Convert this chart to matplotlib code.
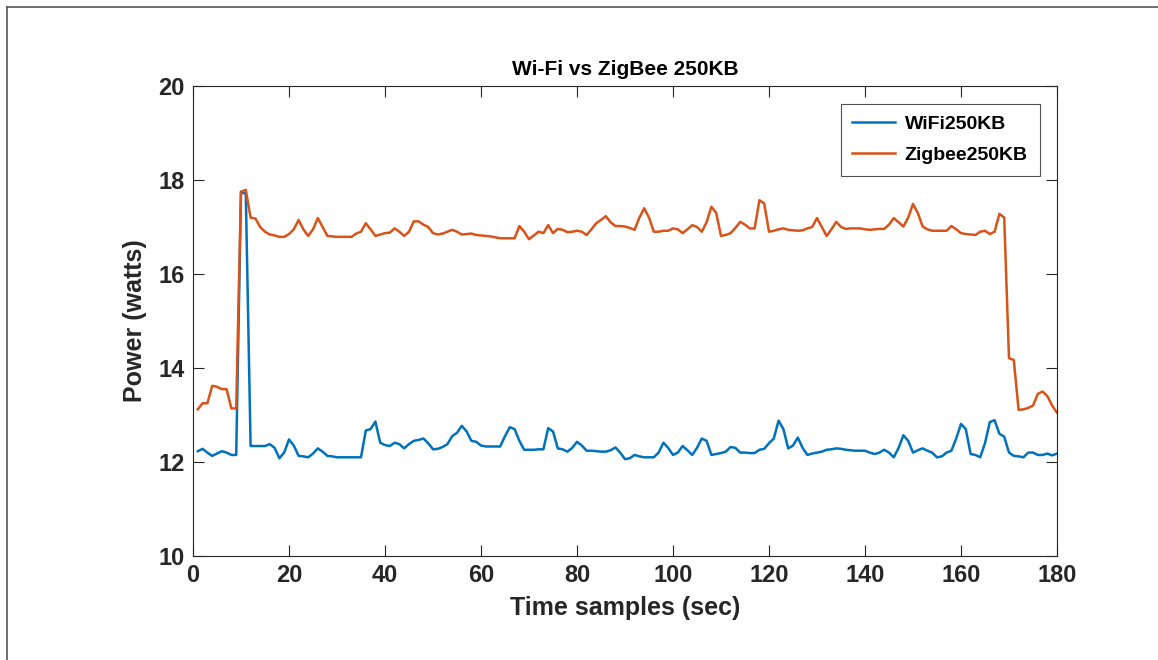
import matplotlib
matplotlib.use("Agg")
import matplotlib.pyplot as plt
from matplotlib.lines import Line2D
import numpy as np

time_s = list(range(1, 181))

zigbee_250kb = [
    13.12, 13.25, 13.25, 13.62, 13.60, 13.55, 13.55, 13.14, 13.14, 17.75,
    17.79, 17.20, 17.18, 17.00, 16.90, 16.84, 16.82, 16.79, 16.79, 16.85,
    16.95, 17.15, 16.95, 16.81, 16.95, 17.19, 17.00, 16.81, 16.80, 16.79,
    16.79, 16.79, 16.79, 16.86, 16.90, 17.08, 16.95, 16.81, 16.84, 16.87,
    16.88, 16.97, 16.90, 16.81, 16.90, 17.12, 17.12, 17.05, 17.00, 16.87,
    16.84, 16.86, 16.90, 16.94, 16.90, 16.84, 16.85, 16.86, 16.83, 16.82,
    16.81, 16.80, 16.78, 16.76, 16.76, 16.76, 16.76, 17.02, 16.90, 16.74,
    16.82, 16.90, 16.87, 17.04, 16.87, 16.96, 16.94, 16.89, 16.90, 16.92,
    16.90, 16.83, 16.95, 17.08, 17.15, 17.23, 17.10, 17.02, 17.02, 17.01,
    16.98, 16.94, 17.20, 17.40, 17.20, 16.90, 16.90, 16.92, 16.92, 16.97,
    16.95, 16.87, 16.95, 17.04, 17.00, 16.90, 17.10, 17.43, 17.30, 16.81,
    16.83, 16.87, 16.98, 17.11, 17.05, 16.97, 16.97, 17.57, 17.50, 16.90,
    16.92, 16.95, 16.97, 16.94, 16.93, 16.92, 16.93, 16.97, 17.00, 17.19,
    17.00, 16.81, 16.95, 17.11, 17.00, 16.96, 16.97, 16.97, 16.97, 16.95,
    16.94, 16.95, 16.96, 16.96, 17.05, 17.19, 17.10, 17.01, 17.20, 17.49,
    17.30, 17.01, 16.95, 16.92, 16.92, 16.92, 16.92, 17.02, 16.95, 16.87,
    16.85, 16.84, 16.83, 16.90, 16.92, 16.85, 16.90, 17.28, 17.20, 14.21,
    14.17, 13.11, 13.12, 13.15, 13.20, 13.45, 13.50, 13.40, 13.20, 13.05,
]

wifi_250kb = [
    12.23, 12.28, 12.20, 12.13, 12.18, 12.23, 12.20, 12.15, 12.15, 17.75,
    17.70, 12.34, 12.34, 12.34, 12.34, 12.38, 12.30, 12.08, 12.20, 12.48,
    12.35, 12.13, 12.12, 12.10, 12.18, 12.29, 12.22, 12.13, 12.12, 12.10,
    12.10, 12.10, 12.10, 12.10, 12.10, 12.67, 12.70, 12.86, 12.41, 12.36,
    12.34, 12.41, 12.38, 12.29, 12.38, 12.45, 12.47, 12.50, 12.40, 12.27,
    12.28, 12.32, 12.38, 12.55, 12.62, 12.77, 12.65, 12.45, 12.43, 12.35,
    12.33, 12.33, 12.33, 12.33, 12.55, 12.74, 12.70, 12.45, 12.26, 12.26,
    12.26, 12.27, 12.27, 12.72, 12.65, 12.29, 12.27, 12.22, 12.30, 12.43,
    12.35, 12.24, 12.24, 12.23, 12.22, 12.22, 12.25, 12.31, 12.20, 12.06,
    12.08, 12.15, 12.12, 12.10, 12.10, 12.10, 12.20, 12.41, 12.30, 12.15,
    12.20, 12.34, 12.25, 12.15, 12.30, 12.50, 12.45, 12.15, 12.17, 12.19,
    12.22, 12.32, 12.30, 12.20, 12.20, 12.19, 12.19, 12.26, 12.28, 12.40,
    12.50, 12.88, 12.70, 12.29, 12.35, 12.52, 12.30, 12.15, 12.18, 12.20,
    12.22, 12.26, 12.27, 12.29, 12.28, 12.26, 12.25, 12.24, 12.24, 12.24,
    12.20, 12.17, 12.20, 12.26, 12.20, 12.10, 12.30, 12.57, 12.45, 12.20,
    12.25, 12.29, 12.24, 12.20, 12.10, 12.12, 12.20, 12.24, 12.50, 12.81,
    12.70, 12.17, 12.15, 12.10, 12.40, 12.85, 12.89, 12.60, 12.54, 12.20,
    12.13, 12.12, 12.10, 12.20, 12.20, 12.15, 12.15, 12.18, 12.14, 12.18,
]

x_ticks = [0, 20, 40, 60, 80, 100, 120, 140, 160, 180]
y_ticks = [10, 12, 14, 16, 18, 20]

plt.rcParams['font.family'] = ['Liberation Sans', 'DejaVu Sans']
plt.rcParams['font.weight'] = 'bold'

fig = plt.figure(figsize=(11.58, 6.6), dpi=100)
ax = fig.add_axes([193/1158, 1 - 556/660, (1057 - 193)/1158, (556 - 86)/660])

ax.plot(time_s, wifi_250kb, color='#0072BD', lw=1.8, label='WiFi250KB')
ax.plot(time_s, zigbee_250kb, color='#D95319', lw=1.8, label='Zigbee250KB')

ax.set_xlim(0, 180)
ax.set_ylim(10, 20)
ax.set_xticks(x_ticks)
ax.set_yticks(y_ticks)
ax.tick_params(direction='in', top=True, right=True, length=8, width=0.8,
               colors='#262626', labelsize=17, pad=6)
for lab in ax.get_xticklabels() + ax.get_yticklabels():
    lab.set_fontweight('bold')
for s in ax.spines.values():
    s.set_color('#262626')
    s.set_linewidth(0.8)

ax.set_title('Wi-Fi vs ZigBee 250KB', fontsize=15, fontweight='bold', pad=8)
ax.set_xlabel('Time samples (sec)', fontsize=18, fontweight='bold', color='#262626', labelpad=6)
ax.set_ylabel('Power (watts)', fontsize=18, fontweight='bold', color='#262626', labelpad=8)

leg = ax.legend(loc='upper right', frameon=True, fancybox=False,
                edgecolor='#262626', handlelength=2.2, borderaxespad=0.9,
                labelspacing=0.7, borderpad=0.6, handletextpad=0.5,
                prop={'weight': 'bold', 'size': 14})
leg.get_frame().set_linewidth(0.8)

fig.add_artist(Line2D([7/1158, 1], [1 - 7/660, 1 - 7/660], transform=fig.transFigure,
                      color='#555555', lw=1.2))
fig.add_artist(Line2D([7/1158, 7/1158], [0, 1 - 7/660], transform=fig.transFigure,
                      color='#555555', lw=1.2))

fig.savefig('out.png', dpi=100)
